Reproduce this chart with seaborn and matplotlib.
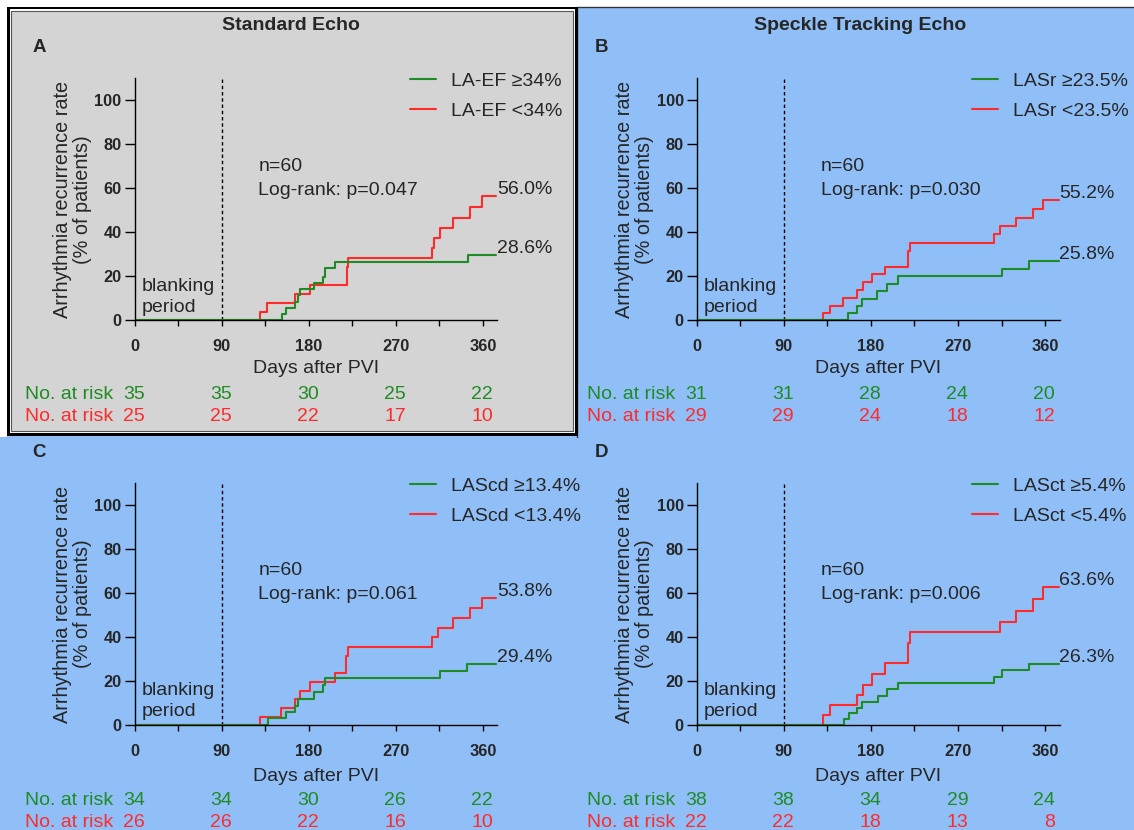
import numpy as np
import pandas as pd
import matplotlib
matplotlib.use("Agg")
import matplotlib.pyplot as plt
import matplotlib.transforms as mtransforms
from matplotlib.patches import Rectangle
from matplotlib.lines import Line2D
import seaborn as sns

# ---------------- data ----------------
x_ticks = [0, 90, 180, 270, 360]
x_minor_ticks = [45, 135, 225, 315]
y_ticks = [0, 20, 40, 60, 80, 100]
panel_letters = ["A", "B", "C", "D"]
group_titles = ["Standard Echo", "Speckle Tracking Echo"]
hi_labels = ["LA-EF \u226534%", "LASr \u226523.5%", "LAScd \u226513.4%", "LASct \u22655.4%"]
lo_labels = ["LA-EF <34%", "LASr <23.5%", "LAScd <13.4%", "LASct <5.4%"]
p_values = ["0.047", "0.030", "0.061", "0.006"]
n_total = 60
hi_end_labels = ["28.6%", "25.8%", "29.4%", "26.3%"]
lo_end_labels = ["56.0%", "55.2%", "53.8%", "63.6%"]
hi_at_risk = [[35, 35, 30, 25, 22], [31, 31, 28, 24, 20], [34, 34, 30, 26, 22], [38, 38, 34, 29, 24]]
lo_at_risk = [[25, 25, 22, 17, 10], [29, 29, 24, 18, 12], [26, 26, 22, 16, 10], [22, 22, 18, 13, 8]]
follow_up_end = 374
blanking_end = 90

# Panel A (LA-EF)
a_hi_days = [152, 157, 166, 169, 171.5, 186, 195, 196.6, 207.6, 344.5]
a_hi_pct = [2.7, 5.7, 8.5, 11.5, 14.2, 17.1, 19.8, 23.6, 26.6, 29.5]
a_lo_days = [130, 137.4, 166.3, 181, 219.6, 220.7, 307.3, 310, 315.3, 329, 347, 359]
a_lo_pct = [4.0, 8.0, 11.8, 16.0, 24.4, 28.5, 32.7, 37.3, 41.8, 46.4, 51.4, 56.4]
# Panel B (LASr)
b_hi_days = [156.3, 166, 170.7, 186.6, 196.9, 207.8, 315, 343.3]
b_hi_pct = [3.2, 6.5, 9.8, 13.2, 16.5, 20.0, 23.5, 27.1]
b_lo_days = [130.5, 137.4, 151.5, 166, 171.4, 180.7, 194.4, 218.1, 220.6, 307.5, 313.7, 329.5, 347.4, 358]
b_lo_pct = [3.5, 6.6, 10.3, 13.8, 17.3, 20.9, 24.4, 31.5, 35.1, 39.1, 42.9, 46.6, 50.6, 54.7]
# Panel C (LAScd)
c_hi_days = [137.5, 156.3, 166.3, 169, 185.5, 194.8, 196.6, 315.3, 343.9]
c_hi_pct = [3.0, 6.1, 8.8, 11.8, 14.8, 18.2, 21.2, 24.5, 27.7]
c_lo_days = [130.2, 151.9, 166.3, 171.5, 181.1, 207.6, 219, 220.7, 307.3, 313.5, 329, 347, 359]
c_lo_pct = [3.8, 7.9, 11.7, 15.5, 19.4, 23.5, 31.4, 35.6, 39.9, 44.2, 48.5, 53.0, 57.9]
# Panel D (LASct)
d_hi_days = [151.9, 157, 166, 170.7, 187.2, 196.9, 207.8, 307.5, 315, 343.3]
d_hi_pct = [2.6, 5.3, 7.9, 10.6, 13.3, 16.2, 19.0, 21.7, 25.0, 27.7]
d_lo_days = [130.5, 137.4, 166, 171.4, 180.7, 194.4, 218.1, 220.6, 313.7, 329.5, 347.4, 358]
d_lo_pct = [4.5, 9.1, 13.6, 18.2, 23.0, 28.0, 37.4, 42.1, 47.0, 51.8, 57.1, 62.6]

curves = [
    (a_hi_days, a_hi_pct, a_lo_days, a_lo_pct),
    (b_hi_days, b_hi_pct, b_lo_days, b_lo_pct),
    (c_hi_days, c_hi_pct, c_lo_days, c_lo_pct),
    (d_hi_days, d_hi_pct, d_lo_days, d_lo_pct),
]

# ---------------- style ----------------
GREEN = "#1f8b24"
RED = "#ff2a2a"
BLUE_BG = "#90bff8"
GRAY_BG = "#d4d4d4"

sns.set_style("ticks")
plt.rcParams["font.family"] = ["Liberation Sans", "DejaVu Sans"]
plt.rcParams["axes.linewidth"] = 1.0

W, H = 1134, 830
fig = plt.figure(figsize=(W / 100, H / 100), dpi=100, facecolor=BLUE_BG)


def fx(px):
    return px / W


def fy(py):
    return 1 - py / H


def add_rect(x0, y0, x1, y1, fc, ec="none", lw=0, z=-10):
    r = Rectangle((fx(x0), fy(y1)), (x1 - x0) / W, (y1 - y0) / H,
                  transform=fig.transFigure, facecolor=fc, edgecolor=ec,
                  linewidth=lw, zorder=z)
    fig.add_artist(r)


# backgrounds / borders
add_rect(0, 0, W, 7, "white")
add_rect(0, 0, 7, 437, "white")
fig.add_artist(Line2D([fx(577), fx(577)], [fy(7.5), fy(437)], transform=fig.transFigure,
                      color="#333333", lw=1.0, zorder=-9))
fig.add_artist(Line2D([fx(577), fx(W)], [fy(7.5), fy(7.5)], transform=fig.transFigure,
                      color="#333333", lw=1.0, zorder=-9))
add_rect(7, 7, 577.5, 435.5, "black", z=-8)
add_rect(9.5, 9.5, 575, 433, "white", z=-7)
add_rect(11, 11, 573, 431, GRAY_BG, ec="#555555", lw=0.8, z=-6)

# titles and letters
fig.text(fx(291), fy(26), group_titles[0], ha="center", va="center", fontsize=14, fontweight="bold")
fig.text(fx(860), fy(26), group_titles[1], ha="center", va="center", fontsize=14, fontweight="bold")
letter_pos = [(39, 48), (601, 48), (39, 452), (601, 452)]

# axes geometry (pixels)
ax_w, ax_h = 362.9, 242
ax_left = [134.5, 696.7, 134.5, 696.7]
ax_zero = [320.3, 320.3, 725, 725]
label_y = [368, 368, 776, 776]
risk_y = [(394, 416), (394, 416), (800, 822), (800, 822)]

for i in range(4):
    L, Z = ax_left[i], ax_zero[i]
    ax = fig.add_axes([fx(L), fy(Z), ax_w / W, ax_h / H])
    ax.set_facecolor("none")
    hi_days, hi_pct, lo_days, lo_pct = curves[i]

    frames = []
    for lab, days, pct in [(lo_labels[i], lo_days, lo_pct), (hi_labels[i], hi_days, hi_pct)]:
        d = [0] + list(days) + [follow_up_end]
        p = [0] + list(pct) + [pct[-1]]
        frames.append(pd.DataFrame({"day": d, "pct": p, "group": lab}))
    df = pd.concat(frames, ignore_index=True)
    sns.lineplot(data=df, x="day", y="pct", hue="group",
                 hue_order=[lo_labels[i], hi_labels[i]],
                 palette={lo_labels[i]: RED, hi_labels[i]: GREEN},
                 drawstyle="steps-post", estimator=None, sort=False,
                 linewidth=1.5, legend=False, ax=ax)

    ax.axvline(blanking_end, ymin=0, ymax=1, color="black", lw=1.0,
               linestyle=(0, (2.5, 2)), zorder=1)

    ax.set_xlim(0, 375)
    ax.set_ylim(0, 110)
    ax.set_xticks(x_ticks)
    ax.set_xticks(x_minor_ticks, minor=True)
    ax.set_yticks(y_ticks)
    ax.tick_params(axis="x", which="both", length=4, width=1, pad=9.5, labelsize=11.8, color="black")
    ax.tick_params(axis="y", length=7, width=1, pad=2.4, labelsize=11.8, color="black")
    for lbl in ax.get_xticklabels() + ax.get_yticklabels():
        lbl.set_fontweight("bold")
    sns.despine(ax=ax)
    for s in ["left", "bottom"]:
        ax.spines[s].set_color("black")
        ax.spines[s].set_linewidth(1.0)

    ax.set_xlabel("Days after PVI", fontsize=14)
    ax.xaxis.set_label_coords(0.5, -(label_y[i] - Z) / ax_h)
    ax.xaxis.label.set_verticalalignment("center")
    ax.set_ylabel("Arrhythmia recurrence rate\n(% of patients)", fontsize=14.3, linespacing=1.05)
    ax.yaxis.set_label_coords((72.5 - 134.5) / ax_w, 0.5)
    ax.yaxis.label.set_verticalalignment("center")

    # annotations
    ax.text(7, 15.5, "blanking", fontsize=14, ha="left", va="center")
    ax.text(7, 6.0, "period", fontsize=14, ha="left", va="center")
    ax.text(128, 70.1, f"n={n_total}", fontsize=14, ha="left", va="center")
    ax.text(128, 59.2, f"Log-rank: p={p_values[i]}", fontsize=14, ha="left", va="center")
    ax.text(follow_up_end + 0.5, lo_pct[-1] + 3, lo_end_labels[i], fontsize=14, ha="left", va="center")
    ax.text(follow_up_end + 0.5, hi_pct[-1] + 3, hi_end_labels[i], fontsize=14, ha="left", va="center")

    handles = [Line2D([], [], color=GREEN, lw=1.5), Line2D([], [], color=RED, lw=1.5)]
    ax.legend(handles, [hi_labels[i], lo_labels[i]], loc="upper left",
              bbox_to_anchor=(fx(L + 275), fy(ax_zero[i] - 320.3 + 72.5)),
              bbox_transform=fig.transFigure, frameon=False, fontsize=14,
              handlelength=1.34, handletextpad=0.78, labelspacing=0.63,
              borderpad=0, borderaxespad=0)

    # number at risk
    trans = mtransforms.blended_transform_factory(ax.transData, fig.transFigure)
    gy, ry = risk_y[i]
    fig.text(fx(L - 109.5), fy(gy), "No. at risk", color=GREEN, fontsize=14, ha="left", va="center")
    fig.text(fx(L - 109.5), fy(ry), "No. at risk", color=RED, fontsize=14, ha="left", va="center")
    for t, g, r in zip(x_ticks, hi_at_risk[i], lo_at_risk[i]):
        ax.text(t + 10.5, fy(gy), str(g), color=GREEN, fontsize=14, ha="right", va="center",
                transform=trans, clip_on=False)
        ax.text(t + 10.5, fy(ry), str(r), color=RED, fontsize=14, ha="right", va="center",
                transform=trans, clip_on=False)

    lx, ly = letter_pos[i]
    fig.text(fx(lx), fy(ly), panel_letters[i], ha="center", va="center", fontsize=13.5, fontweight="bold")

fig.savefig("out.png", dpi=100, facecolor=fig.get_facecolor())
